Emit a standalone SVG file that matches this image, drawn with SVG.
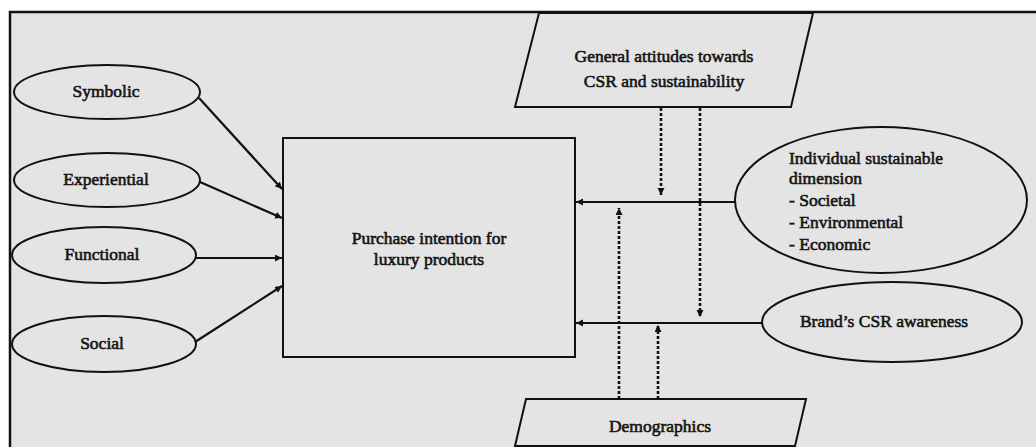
<svg xmlns="http://www.w3.org/2000/svg" width="1036" height="447" viewBox="0 0 1036 447">
  <style>
    .shape { fill: none; stroke: #111; stroke-width: 2; }
    .solid { fill: none; stroke: #111; stroke-width: 2.2; }
    .dash { fill: none; stroke: #111; stroke-width: 2.6; stroke-dasharray: 3 2; }
    text { font-family: "Liberation Serif", "Times New Roman", serif; font-size: 17.5px; fill: #141414; stroke: #141414; stroke-width: 0.6; }
    .c { text-anchor: middle; }
  </style>
  <defs>
    <marker id="head" markerUnits="userSpaceOnUse" markerWidth="10" markerHeight="10" refX="7" refY="3.5" orient="auto">
      <path d="M0,0 L7,3.5 L0,7 z" fill="#111"/>
    </marker>
  </defs>

  <!-- page and outer frame -->
  <rect x="0" y="0" width="1036" height="447" fill="#ffffff"/>
  <rect x="10" y="12" width="1040" height="450" fill="#e4e4e4" stroke="#111" stroke-width="2.5"/>

  <!-- connectors -->
  <g id="connectors">
    <line class="solid" x1="199" y1="98" x2="282" y2="189" marker-end="url(#head)"/>
    <line class="solid" x1="200" y1="182" x2="282" y2="218" marker-end="url(#head)"/>
    <line class="solid" x1="195" y1="258" x2="282" y2="258" marker-end="url(#head)"/>
    <line class="solid" x1="195" y1="342" x2="282" y2="286" marker-end="url(#head)"/>
    <line class="solid" x1="735" y1="202" x2="576" y2="202" marker-end="url(#head)"/>
    <line class="solid" x1="762" y1="323" x2="576" y2="323" marker-end="url(#head)"/>
    <line class="dash" x1="661" y1="108" x2="661" y2="195" marker-end="url(#head)"/>
    <line class="dash" x1="700" y1="108" x2="700" y2="317" marker-end="url(#head)"/>
    <line class="dash" x1="619" y1="399" x2="619" y2="208" marker-end="url(#head)"/>
    <line class="dash" x1="658" y1="399" x2="658" y2="325" marker-end="url(#head)"/>
  </g>

  <!-- value dimensions -->
  <g id="symbolic">
    <ellipse class="shape" cx="107" cy="92" rx="93" ry="27"/>
    <text class="c" x="106" y="97">Symbolic</text>
  </g>
  <g id="experiential">
    <ellipse class="shape" cx="107" cy="180" rx="93" ry="27"/>
    <text class="c" x="106" y="185">Experiential</text>
  </g>
  <g id="functional">
    <ellipse class="shape" cx="104" cy="255" rx="92" ry="28"/>
    <text class="c" x="102" y="260">Functional</text>
  </g>
  <g id="social">
    <ellipse class="shape" cx="104" cy="344" rx="92" ry="28"/>
    <text class="c" x="102" y="349">Social</text>
  </g>

  <!-- outcome -->
  <g id="purchase-intention">
    <rect class="shape" x="283" y="138" width="292" height="219"/>
    <text class="c" x="429" y="244">Purchase intention for</text>
    <text class="c" x="429" y="265">luxury products</text>
  </g>

  <!-- moderators -->
  <g id="general-attitudes">
    <polygon class="shape" points="539,13 813,13 791,107 515,107"/>
    <text class="c" x="664" y="62">General attitudes  towards</text>
    <text class="c" x="664" y="87">CSR and sustainability</text>
  </g>
  <g id="demographics">
    <polygon class="shape" points="526,399 806,399 795,446 515,446"/>
    <text class="c" x="660" y="432">Demographics</text>
  </g>

  <!-- sustainability drivers -->
  <g id="individual-dimension">
    <ellipse class="shape" cx="881" cy="200" rx="146" ry="73"/>
    <text x="789" y="164">Individual sustainable</text>
    <text x="789" y="184">dimension</text>
    <text x="789" y="206">- Societal</text>
    <text x="789" y="228">- Environmental</text>
    <text x="789" y="250">- Economic</text>
  </g>
  <g id="brand-csr">
    <ellipse class="shape" cx="892" cy="322" rx="130" ry="40"/>
    <text class="c" x="884" y="327">Brand’s CSR awareness</text>
  </g>
</svg>
